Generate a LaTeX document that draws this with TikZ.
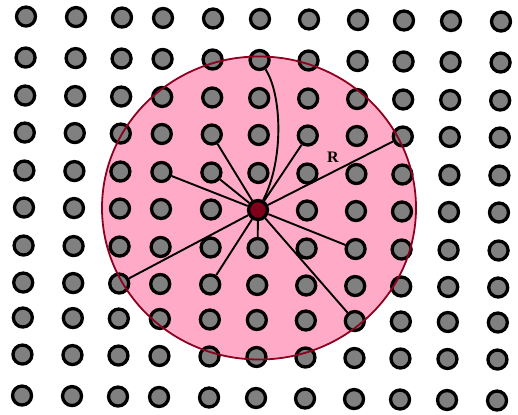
\documentclass[tikz,border=0pt]{standalone}
\usepackage{fontspec}
\setmainfont{Liberation Serif}
\definecolor{zonepink}{RGB}{255,170,198}
\definecolor{zoneedge}{RGB}{140,0,32}
\definecolor{tagred}{RGB}{128,0,26}
\begin{document}
\begin{tikzpicture}[x=1pt, y=-1pt,
    particle/.style={circle, draw=black, line width=3.3pt, fill=gray, minimum size=19pt, inner sep=0pt},
    tagged/.style={particle, fill=tagred},
    link/.style={line width=1.9pt},
    rlabel/.style={font=\fontsize{16}{18}\selectfont\bfseries, inner sep=0pt}]
    \useasboundingbox (0,0) rectangle (518,414);
    % Cutoff sphere
    \coordinate (o) at (259,208);
    \fill[zonepink] (o) ellipse [x radius=157pt, y radius=151.5pt];
    % Lattice (slightly rotated)
    \foreach \x [count=\i from 0] in {24,74,120,161,211,258,307,356,402,449,499} {
        \foreach \y [count=\j from 0] in {19,60,98,135,173,210,248,285,320,357,398} {
            \pgfmathsetmacro\px{\x-0.0105*(\y-210)}
            \pgfmathsetmacro\py{\y+0.0105*(\x-258)}
            \ifnum\numexpr\i*100+\j\relax=505 \def\kind{tagged}\else\def\kind{particle}\fi
            \node[\kind] (p-\i-\j) at (\px,\py) {};
        }
    }
    % Neighbour links
    \foreach \n in {3-4,4-3,4-4,6-3,7-6,7-8,5-6,4-7} {
        \draw[link] (p-5-5) -- (p-\n);
    }
    \draw[link] (p-5-5) .. controls (284,160) and (282,95) .. (p-5-1);
    \draw[link] (p-2-7) -- (p-5-5) -- (p-8-3);
    \node[rlabel] (rlab) at (333,157) {R};
    % Sphere edge
    \draw[zoneedge, line width=1.8pt] (o) ellipse [x radius=157pt, y radius=151.5pt];
\end{tikzpicture}
\end{document}
